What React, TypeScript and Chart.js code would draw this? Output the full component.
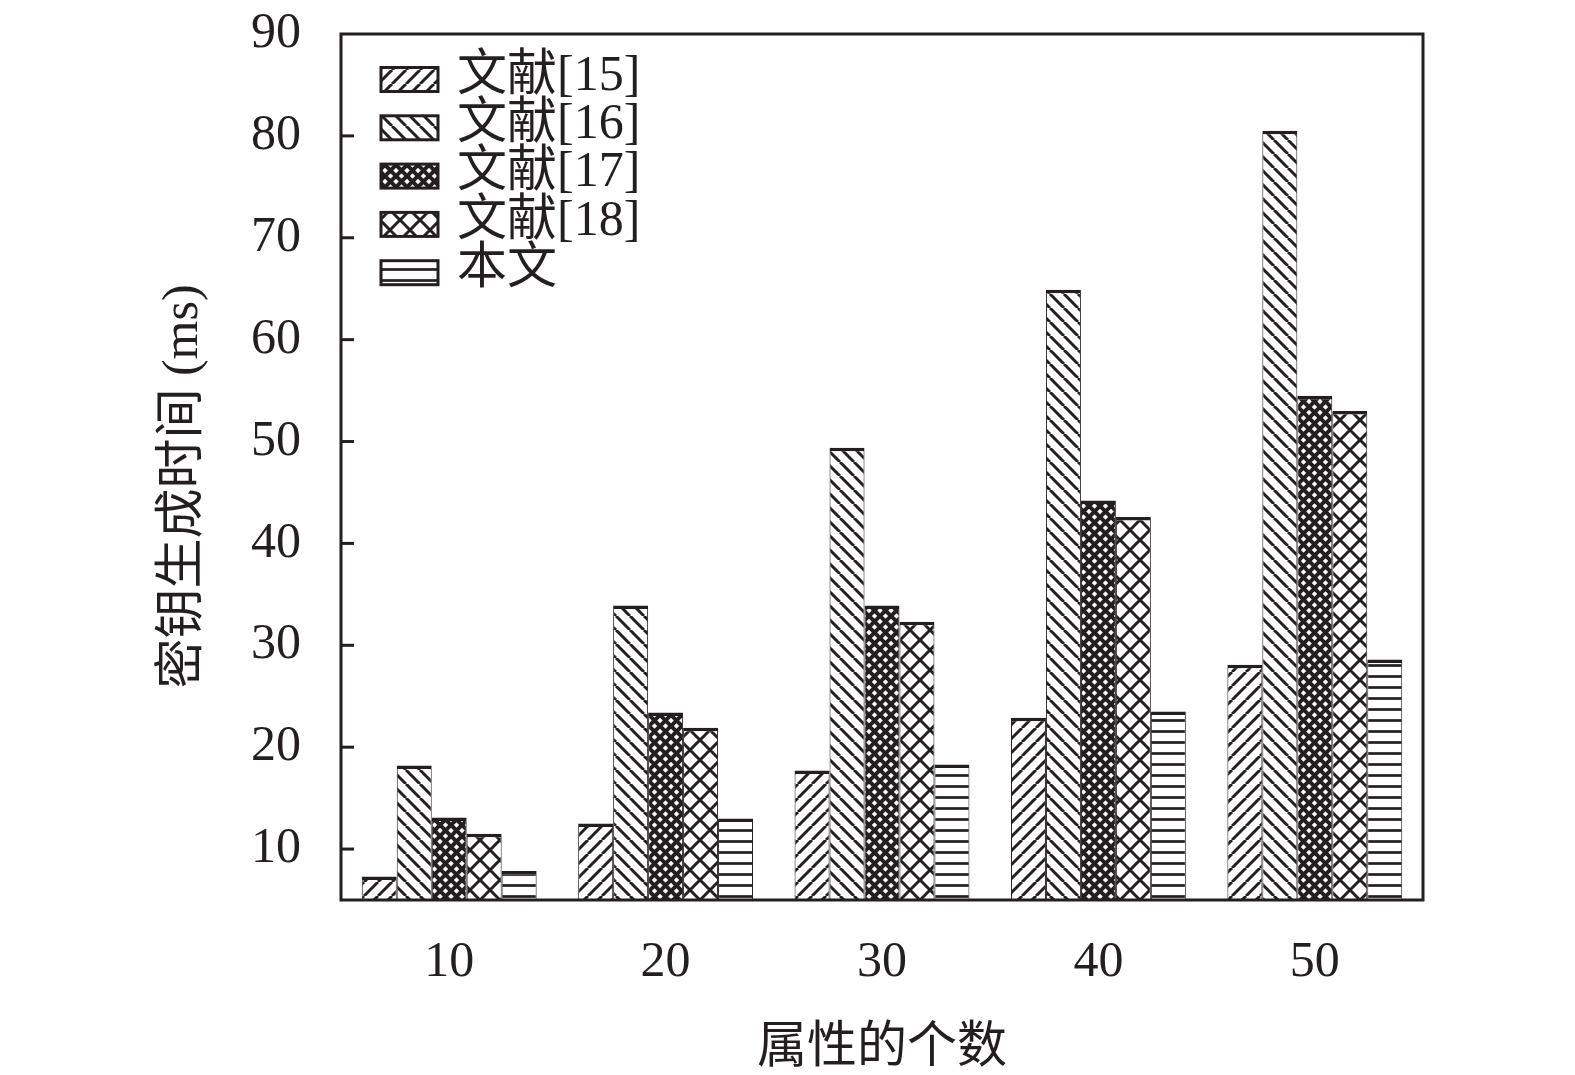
import { useEffect, useRef } from "react";
import { Chart, registerables } from "chart.js";

Chart.register(...registerables);

// data
const categories = ["10", "20", "30", "40", "50"];
const seriesNames = ["文献[15]", "文献[16]", "文献[17]", "文献[18]", "本文"];
const ref15 = [7.3, 12.5, 17.7, 22.9, 28.1];
const ref16 = [18.2, 33.9, 49.4, 64.9, 80.5];
const ref17 = [13.1, 23.4, 33.9, 44.2, 54.5];
const ref18 = [11.5, 21.9, 32.3, 42.6, 53.0];
const ours = [7.85, 13.0, 18.3, 23.5, 28.6];
const yTicks = [10, 20, 30, 40, 50, 60, 70, 80, 90];
const yTitle = "密钥生成时间 (ms)";
const xTitle = "属性的个数";

const INK = "#231f20";
const FAMILY = "'Liberation Serif', 'Noto Sans CJK SC', serif";

type Hatch = "fwd" | "back" | "dense" | "cross" | "horiz";
const hatches: Hatch[] = ["fwd", "back", "dense", "cross", "horiz"];

function makePattern(kind: Hatch): CanvasPattern {
  const size = { fwd: 14, back: 14, dense: 11, cross: 20, horiz: 11 }[kind];
  const c = document.createElement("canvas");
  c.width = size;
  c.height = size;
  const g = c.getContext("2d")!;
  g.fillStyle = "#fff";
  g.fillRect(0, 0, size, size);
  g.strokeStyle = INK;
  g.fillStyle = INK;

  const diag = (up: boolean, lw: number) => {
    g.lineWidth = lw;
    for (const x0 of [-size, 0, size]) {
      g.beginPath();
      if (up) {
        g.moveTo(x0, size);
        g.lineTo(x0 + size, 0);
      } else {
        g.moveTo(x0, 0);
        g.lineTo(x0 + size, size);
      }
      g.stroke();
    }
  };

  if (kind === "fwd") diag(true, 3);
  if (kind === "back") diag(false, 3);
  if (kind === "dense") {
    diag(true, 4);
    diag(false, 4);
  }
  if (kind === "cross") {
    diag(true, 3);
    diag(false, 3);
  }
  if (kind === "horiz") g.fillRect(0, (size - 2.7) / 2, size, 2.7);

  return g.createPattern(c, "repeat")!;
}

const decor = {
  id: "decor",
  afterDraw(chart: Chart) {
    const { ctx, chartArea: a } = chart;
    const y = chart.scales.y;
    ctx.save();
    ctx.strokeStyle = INK;
    ctx.lineWidth = 3;

    // inward ticks on the y axis
    yTicks.slice(0, -1).forEach((v) => {
      const py = y.getPixelForValue(v);
      ctx.beginPath();
      ctx.moveTo(a.left, py);
      ctx.lineTo(a.left + 13, py);
      ctx.stroke();
    });

    // frame
    ctx.strokeRect(a.left, a.top, a.right - a.left, a.bottom - a.top);

    // legend inside the plot
    ctx.font = `50px ${FAMILY}`;
    ctx.textBaseline = "middle";
    ctx.textAlign = "left";
    chart.data.datasets.forEach((ds, i) => {
      const cy = a.top + 45.5 + i * 48.3;
      const bx = a.left + 40;
      ctx.fillStyle = ds.backgroundColor as CanvasPattern;
      ctx.fillRect(bx, cy - 12, 57, 24);
      ctx.strokeRect(bx, cy - 12, 57, 24);
      ctx.fillStyle = INK;
      ctx.fillText(ds.label as string, a.left + 116, cy - 3);
    });

    // y axis title
    ctx.translate(183.5, 486.5);
    ctx.rotate(-Math.PI / 2);
    ctx.textAlign = "center";
    ctx.fillText(yTitle, 0, 0);
    ctx.restore();
  },
};

export default function App() {
  const canvasRef = useRef<HTMLCanvasElement>(null);
  const chartRef = useRef<Chart | null>(null);

  useEffect(() => {
    document.body.style.margin = "0";
    if (chartRef.current) chartRef.current.destroy();
    const patterns = hatches.map(makePattern);
    const seriesData = [ref15, ref16, ref17, ref18, ours];

    chartRef.current = new Chart(canvasRef.current!, {
      type: "bar",
      data: {
        labels: categories,
        datasets: seriesNames.map((label, i) => ({
          label,
          data: seriesData[i],
          backgroundColor: patterns[i],
          borderColor: INK,
          borderWidth: { top: 3.5, left: 1, right: 1, bottom: 0 },
          borderSkipped: "start" as const,
          barPercentage: 1,
          categoryPercentage: 0.808,
        })),
      },
      options: {
        responsive: false,
        animation: false,
        events: [],
        layout: { padding: { top: 34, right: 152, left: 0, bottom: 0 } },
        plugins: {
          legend: { display: false },
          tooltip: { enabled: false },
        },
        scales: {
          x: {
            grid: { display: false, drawTicks: false },
            border: { display: false },
            ticks: { padding: 33, color: INK, font: { family: FAMILY, size: 50 } },
            title: {
              display: true,
              text: xTitle,
              color: INK,
              font: { family: FAMILY, size: 50 },
              padding: { top: 0, bottom: -4 },
            },
            afterFit: (s) => {
              s.height = 175;
              s.paddingLeft = 0;
              s.paddingRight = 0;
            },
          },
          y: {
            min: 5,
            max: 90,
            afterBuildTicks: (s) => {
              s.ticks = yTicks.map((v) => ({ value: v }));
            },
            afterFit: (s) => {
              s.width = 341;
              s.paddingTop = 0;
              s.paddingBottom = 0;
            },
            grid: { display: false, drawTicks: false },
            border: { display: false },
            ticks: { padding: 40, color: INK, font: { family: FAMILY, size: 50 } },
          },
        },
      },
      plugins: [decor],
    });

    return () => {
      if (chartRef.current) {
        chartRef.current.destroy();
        chartRef.current = null;
      }
    };
  }, []);

  return (
    <div style={{ width: 1575, height: 1075, background: "#fff" }}>
      <canvas ref={canvasRef} width={1575} height={1075} style={{ display: "block" }} />
    </div>
  );
}
